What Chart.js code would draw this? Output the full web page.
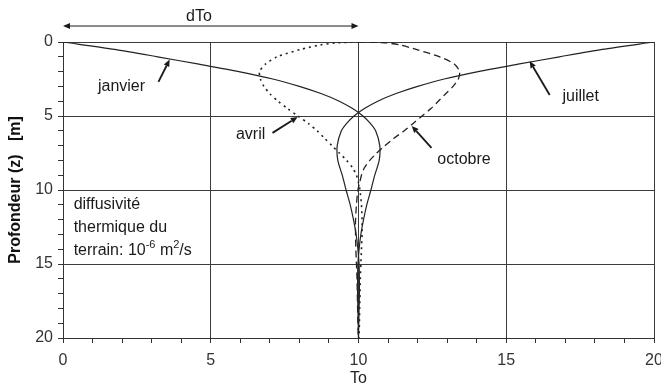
<!DOCTYPE html>
<html><head><meta charset="utf-8">
<script src="https://cdn.jsdelivr.net/npm/chart.js@4.4.1/dist/chart.umd.min.js"></script>
<style>html,body{margin:0;padding:0;background:#fff;}#wrap{width:661px;height:388px;}</style>
</head><body><div id="wrap"><canvas id="c" width="661" height="388"></canvas></div>
<script>
// ---- data (temperature To vs depth z) ----
const seriesNames = ['janvier', 'juillet', 'avril', 'octobre'];
const depthJanJul = [0, 0.5, 1, 1.5, 2, 2.5, 3, 3.5, 4, 4.5, 5, 5.5, 6, 7, 8, 9, 10, 11, 12, 13, 14, 15, 16, 17, 18, 19, 20];
const janvierT  = [0, 1.75, 3.2, 4.6, 5.95, 7.1, 8.0, 8.75, 9.35, 9.8, 10.15, 10.4, 10.58, 10.72, 10.7, 10.55, 10.42, 10.28, 10.17, 10.08, 10.02, 9.98, 9.97, 9.97, 9.98, 9.99, 10];
const juilletT  = [20, 18.25, 16.8, 15.4, 14.05, 12.9, 12.0, 11.25, 10.65, 10.2, 9.85, 9.6, 9.42, 9.28, 9.3, 9.45, 9.58, 9.72, 9.83, 9.92, 9.98, 10.02, 10.03, 10.03, 10.02, 10.01, 10];
const depthAvrOct = [0, 0.05, 0.2, 0.5, 1, 1.5, 2, 2.5, 3, 3.5, 4, 4.5, 5, 5.5, 6, 6.5, 7, 7.5, 8, 8.5, 9, 9.5, 10, 11, 12, 13, 14, 15, 16, 17, 18, 19, 20];
const avrilT    = [10, 9.3, 8.7, 8.05, 7.25, 6.85, 6.65, 6.68, 6.8, 7.0, 7.28, 7.6, 7.95, 8.3, 8.6, 8.85, 9.1, 9.35, 9.6, 9.8, 9.93, 10.0, 10.05, 10.1, 10.12, 10.12, 10.1, 10.08, 10.06, 10.05, 10.04, 10.03, 10.02];
const octobreT  = [10, 10.9, 11.4, 11.95, 12.75, 13.25, 13.42, 13.38, 13.2, 12.95, 12.7, 12.45, 12.15, 11.85, 11.55, 11.2, 10.9, 10.62, 10.38, 10.2, 10.1, 10.04, 9.98, 9.93, 9.9, 9.9, 9.91, 9.93, 9.95, 9.96, 9.97, 9.98, 9.99];
const xTickLabels = [0, 5, 10, 15, 20];
const yTickLabels = [0, 5, 10, 15, 20];
const xTitle = 'To';
const yTitle = 'Profondeur (z)   [m]';
const noteLines = ['diffusivité', 'thermique du'];
const dToLabel = 'dTo';

// ---- annotation placement (in data units) ----
const callouts = [
  {text: 'janvier', tx: 1.98,  tz: 3.04, from: [3.23, 2.70], to: [3.61, 1.18]},
  {text: 'avril',   tx: 6.35,  tz: 6.28, from: [7.09, 6.14], to: [7.94, 5.06]},
  {text: 'octobre', tx: 13.57, tz: 7.96, from: [12.47, 7.15], to: [11.80, 5.67]},
  {text: 'juillet', tx: 17.52, tz: 3.71, from: [16.47, 3.58], to: [15.79, 1.28]}
];

const FONT = '"Liberation Sans", Arial, sans-serif';
const pts = (T, Z) => T.map((t, i) => ({x: t, y: Z[i]}));

function arrowHead(ctx, x0, y0, x1, y1, len, half) {
  const a = Math.atan2(y1 - y0, x1 - x0);
  const bx = x1 - len * Math.cos(a), by = y1 - len * Math.sin(a);
  ctx.beginPath();
  ctx.moveTo(x1, y1);
  ctx.lineTo(bx + half * Math.sin(a), by - half * Math.cos(a));
  ctx.lineTo(bx - half * Math.sin(a), by + half * Math.cos(a));
  ctx.closePath();
  ctx.fill();
  return [bx, by];
}

const annot = {
  id: 'annot',
  afterDraw(chart) {
    const {ctx, scales: {x, y}} = chart;
    const px = v => x.getPixelForValue(v), py = v => y.getPixelForValue(v);
    ctx.save();
    ctx.fillStyle = '#1a1a1a';
    ctx.strokeStyle = '#1a1a1a';
    ctx.font = '16px ' + FONT;
    ctx.textAlign = 'center';
    ctx.textBaseline = 'middle';
    callouts.forEach(c => {
      ctx.fillText(c.text, px(c.tx), py(c.tz));
      const x0 = px(c.from[0]), y0 = py(c.from[1]), x1 = px(c.to[0]), y1 = py(c.to[1]);
      const b = arrowHead(ctx, x0, y0, x1, y1, 7, 3);
      ctx.lineWidth = 1.8;
      ctx.beginPath(); ctx.moveTo(x0, y0); ctx.lineTo(b[0], b[1]); ctx.stroke();
    });
    // dTo double arrow
    const ay = py(-1.08);
    const xl = px(0), xr = px(10);
    ctx.lineWidth = 1;
    ctx.beginPath(); ctx.moveTo(xl + 5, ay); ctx.lineTo(xr - 5, ay); ctx.stroke();
    arrowHead(ctx, xr - 10, ay, xr, ay, 7, 3);
    arrowHead(ctx, xl + 10, ay, xl, ay, 7, 3);
    ctx.fillText(dToLabel, px(4.6), py(-1.75));
    // diffusivity note
    ctx.textAlign = 'left';
    ctx.textBaseline = 'alphabetic';
    const nx = px(0.36);
    ctx.fillText(noteLines[0], nx, py(11.27));
    ctx.fillText(noteLines[1], nx, py(12.85));
    let cx = nx; const by = py(14.42);
    const seg = (s, size, dy) => { ctx.font = size + 'px ' + FONT; ctx.fillText(s, cx, by + dy); cx += ctx.measureText(s).width; };
    seg('terrain: 10', 16, 0);
    seg('-6', 11, -7);
    seg(' m', 16, 0);
    seg('2', 11, -7);
    seg('/s', 16, 0);
    ctx.restore();
  }
};

const gridColor = ctx => (ctx.tick && ctx.tick.value % 5 === 0) ? '#3c3c3c' : 'rgba(0,0,0,0)';
const tickCb = v => (xTickLabels.includes(v) ? String(v) : '');

new Chart(document.getElementById('c'), {
  type: 'scatter',
  data: {
    datasets: [
      {label: seriesNames[0], data: pts(janvierT, depthJanJul), showLine: true, borderColor: '#222', borderWidth: 1.2, pointRadius: 0, tension: 0.25},
      {label: seriesNames[1], data: pts(juilletT, depthJanJul), showLine: true, borderColor: '#222', borderWidth: 1.2, pointRadius: 0, tension: 0.25},
      {label: seriesNames[2], data: pts(avrilT, depthAvrOct), showLine: true, borderColor: '#222', borderWidth: 1.6, borderDash: [2, 4], pointRadius: 0, tension: 0.25},
      {label: seriesNames[3], data: pts(octobreT, depthAvrOct), showLine: true, borderColor: '#222', borderWidth: 1.3, borderDash: [7, 4], pointRadius: 0, tension: 0.25}
    ]
  },
  options: {
    responsive: false,
    animation: false,
    devicePixelRatio: 1,
    layout: {padding: {top: 42, right: 7, left: 0, bottom: 0}},
    plugins: {legend: {display: false}, tooltip: {enabled: false}},
    scales: {
      x: {
        type: 'linear', position: 'bottom', min: 0, max: 20,
        afterFit: s => { s.height = 50; s.paddingRight = 0; s.paddingLeft = 0; },
        ticks: {stepSize: 1, autoSkip: false, maxRotation: 0, padding: 8, color: '#333', font: {size: 16, family: FONT}, callback: tickCb},
        grid: {color: gridColor, tickColor: '#333', tickLength: 5, lineWidth: 1},
        border: {color: '#333'},
        title: {display: true, text: xTitle, color: '#222', font: {size: 16, family: FONT}, padding: {top: 0, bottom: 0}}
      },
      y: {
        type: 'linear', reverse: true, min: 0, max: 20,
        afterFit: s => { s.width = 63; s.paddingTop = 0; s.paddingBottom = 0; },
        ticks: {stepSize: 1, autoSkip: false, padding: 5, color: '#333', font: {size: 16, family: FONT}, callback: v => (yTickLabels.includes(v) ? String(v) : '')},
        grid: {color: gridColor, tickColor: '#333', tickLength: 5, lineWidth: 1},
        border: {color: '#333'},
        title: {display: true, text: yTitle, color: '#111', font: {size: 16, weight: 'bold', family: FONT}, padding: {top: 6, bottom: 0}}
      }
    }
  },
  plugins: [annot]
});
</script></body></html>
